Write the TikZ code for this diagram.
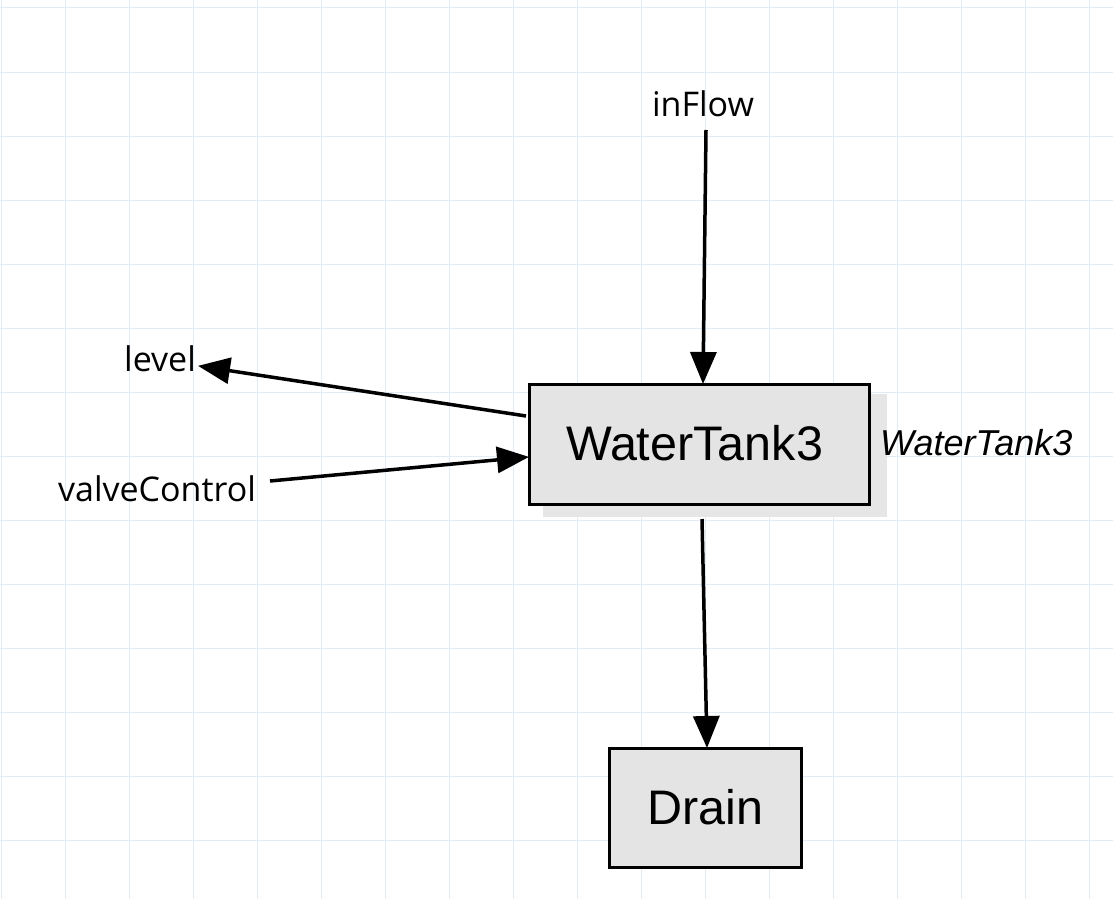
\documentclass[tikz,border=0pt]{standalone}
\usepackage{fontspec}
\setmainfont{Liberation Sans}
\newfontfamily\lblfont{Open Sans}
\usetikzlibrary{arrows.meta}
\definecolor{gridc}{HTML}{E1ECF7}
\definecolor{boxfill}{HTML}{E4E4E4}
\definecolor{shadowc}{HTML}{E6E6E6}
\tikzset{
  gridline/.style={draw=gridc, line width=1pt},
  block/.style={draw=black, line width=3pt, fill=boxfill, inner sep=0pt, font=\fontsize{48.5}{58}\selectfont},
  portlabel/.style={inner sep=0pt, font=\lblfont\fontsize{34}{40}\selectfont},
  conn/.style={draw=black, line width=3.5pt, -{Triangle[length=32pt,width=26pt]}, shorten >=-1pt},
}
\begin{document}
\begin{tikzpicture}[x=1pt,y=-1pt]
\useasboundingbox (0,0) rectangle (1113,899);
\fill[white] (0,0) rectangle (1113,899);
\foreach \x in {1,65,...,1110} \draw[gridline] (\x,0) -- (\x,899);
\foreach \y in {8,72,...,899} \draw[gridline] (0,\y) -- (1113,\y);
% shadow
\fill[shadowc] (543,394) rectangle (887,517);
% blocks
\node[block, minimum width=340pt, minimum height=120pt] (wt) at (699.5,444.5) {\hspace*{-10pt}\raisebox{4pt}{WaterTank3}};
\node[block, minimum width=192pt, minimum height=119pt] (drain) at (705.5,808) {\raisebox{3pt}{Drain}};
\node[inner sep=0pt, anchor=west, font=\itshape\fontsize{36}{43}\selectfont] (wtlabel) at (880,443) {WaterTank3};
% port labels
\node[portlabel] (inflow) at (703,104) {inFlow};
\node[portlabel] (level) at (160,359) {level};
\node[portlabel] (valve) at (157,489) {valveControl};
% connector end points
\coordinate (inS) at (706,130);
\coordinate (inE) at (703,383);
\coordinate (lvS) at (526,416);
\coordinate (lvE) at (199,366);
\coordinate (vcS) at (270,481);
\coordinate (vcE) at (528,457);
\coordinate (drS) at (702,519);
\coordinate (drE) at (707,747);
\draw[conn] (inS) -- (inE);
\draw[conn] (lvS) -- (lvE);
\draw[conn] (vcS) -- (vcE);
\draw[conn] (drS) -- (drE);
\end{tikzpicture}
\end{document}
